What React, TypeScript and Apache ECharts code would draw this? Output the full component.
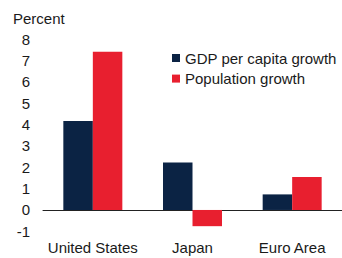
import React, { useEffect, useRef } from "react";
import * as echarts from "echarts";

const categories = ["United States", "Japan", "Euro Area"];
const gdpPerCapita = [4.17, 2.23, 0.73];
const population = [7.42, -0.76, 1.55];
const seriesNames = ["GDP per capita growth", "Population growth"];
const yMin = -1;
const yMax = 8;
const yInterval = 1;

const FONT = "'Liberation Sans', Arial, Helvetica, sans-serif";
const TEXT = "#1a1a1a";

export default function App() {
  const ref = useRef<HTMLDivElement>(null);
  useEffect(() => {
    if (!ref.current) return;
    const chart = echarts.init(ref.current, null, { renderer: "svg" });
    chart.setOption({
      animation: false,
      backgroundColor: "#ffffff",
      textStyle: { fontFamily: FONT },
      grid: { left: 43, right: -5, top: 39.3, bottom: 26.7, containLabel: false },
      legend: {
        orient: "vertical",
        left: 167,
        top: 45.5,
        itemWidth: 8,
        itemHeight: 8,
        itemGap: 5.6,
        icon: "rect",
        textStyle: { fontSize: 15, color: TEXT, fontFamily: FONT, lineHeight: 15 },
        data: seriesNames,
      },
      graphic: [
        {
          type: "text",
          left: 13,
          top: 11,
          style: { text: "Percent", fontSize: 15, fill: TEXT, fontFamily: FONT },
        },
      ],
      xAxis: [
        {
          type: "category",
          data: categories,
          position: "bottom",
          axisLine: { show: false, onZero: false },
          axisTick: { show: false },
          axisLabel: { fontSize: 15, color: TEXT, margin: 9, fontFamily: FONT, interval: 0 },
        },
        {
          type: "category",
          data: categories,
          position: "top",
          axisLine: { show: true, onZero: true, lineStyle: { color: "#222", width: 1 } },
          axisTick: { show: false },
          axisLabel: { show: false },
        },
      ],
      yAxis: {
        type: "value",
        min: yMin,
        max: yMax,
        interval: yInterval,
        splitLine: { show: false },
        axisLine: { show: false },
        axisTick: { show: false },
        axisLabel: { fontSize: 15, color: TEXT, margin: 13, fontFamily: FONT },
      },
      series: [
        {
          name: seriesNames[0],
          type: "bar",
          xAxisIndex: 0,
          data: gdpPerCapita,
          barWidth: 29.5,
          barGap: "0%",
          itemStyle: { color: "#0b2344" },
        },
        {
          name: seriesNames[1],
          type: "bar",
          xAxisIndex: 0,
          data: population,
          barWidth: 29.5,
          barGap: "0%",
          itemStyle: { color: "#e81f2f" },
        },
      ],
    });
    return () => chart.dispose();
  }, []);
  return (
    <div
      ref={ref}
      style={{ position: "fixed", left: 0, top: 0, width: 342, height: 258 }}
    />
  );
}
